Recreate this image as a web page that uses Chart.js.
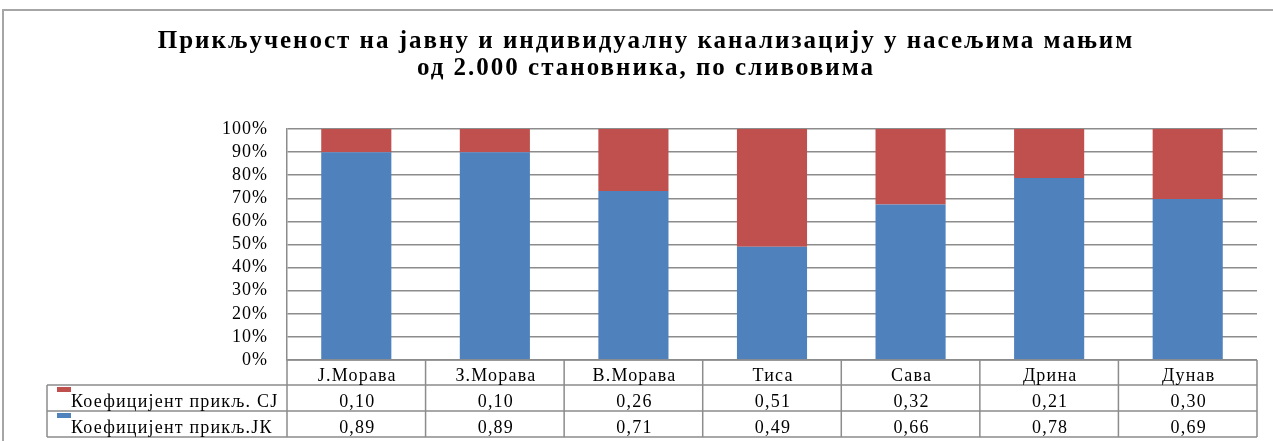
<!DOCTYPE html>
<html>
<head>
<meta charset="utf-8">
<script src="https://cdn.jsdelivr.net/npm/chart.js@4.4.1/dist/chart.umd.min.js"></script>
<style>
  html, body { margin: 0; padding: 0; background: #fff; }
  #wrap { width: 1273px; height: 441px; position: relative; }
</style>
</head>
<body>
<div id="wrap"><canvas id="chart"></canvas></div>
<script>
// data
const basins = ['Ј.Морава', 'З.Морава', 'В.Морава', 'Тиса', 'Сава', 'Дрина', 'Дунав'];
const coefCJ = [0.10, 0.10, 0.26, 0.51, 0.32, 0.21, 0.30];
const coefJK = [0.89, 0.89, 0.71, 0.49, 0.66, 0.78, 0.69];
const seriesNames = ['Коефицијент прикљ. СЈ', 'Коефицијент прикљ.ЈК'];
const titleLines = ['Прикљученост на јавну и индивидуалну канализацију у насељима мањим', 'од 2.000 становника, по сливовима'];

const BLUE = '#4F81BD', RED = '#C0504D', LINE = '#8c8c8c';
const SERIF = '"Liberation Serif", "Times New Roman", serif';

// 100% stacked: each column is scaled to its own total
const share = (arr, i) => arr[i] / (coefCJ[i] + coefJK[i]) * 100;
const fmt = v => v.toFixed(2).replace('.', ',');

// frame, title and the data table under the plot
const tablePlugin = {
  id: 'dataTable',
  beforeDraw(chart) {
    const ctx = chart.ctx;
    ctx.save();
    ctx.strokeStyle = '#a6a6a6';
    ctx.lineWidth = 2;
    ctx.strokeRect(3, 10, 1400, 600);
    ctx.restore();
    // a little extra spacing for the axis labels
    ctx.letterSpacing = '1px';
  },
  afterDraw(chart) {
    const { ctx, chartArea: a, scales: { x } } = chart;
    const n = basins.length;
    const colW = (a.right - a.left) / n;
    const rows = [a.bottom, a.bottom + 25, a.bottom + 51, a.bottom + 77];
    const legendLeft = 47;
    ctx.save();

    // title
    ctx.fillStyle = '#000';
    ctx.textAlign = 'center';
    ctx.textBaseline = 'alphabetic';
    ctx.font = 'bold 25px ' + SERIF;
    ctx.letterSpacing = '2px';
    ctx.fillText(titleLines[0], 646, 48);
    ctx.fillText(titleLines[1], 646, 75);

    ctx.strokeStyle = LINE;
    ctx.lineWidth = 1.5;
    ctx.beginPath();
    ctx.moveTo(a.left, rows[0]); ctx.lineTo(a.right, rows[0]);
    for (let r = 1; r < rows.length; r++) {
      ctx.moveTo(legendLeft, rows[r]); ctx.lineTo(a.right, rows[r]);
    }
    for (let c = 0; c <= n; c++) {
      const px = a.left + c * colW;
      ctx.moveTo(px, rows[0]); ctx.lineTo(px, rows[3]);
    }
    ctx.moveTo(legendLeft, rows[1]); ctx.lineTo(legendLeft, rows[3]);
    ctx.stroke();

    ctx.font = '18px ' + SERIF;
    ctx.letterSpacing = '1.2px';
    basins.forEach((b, i) => {
      const cx = x.getPixelForValue(i) + 1;
      ctx.fillText(b, cx, rows[0] + 21);
      ctx.fillText(fmt(coefCJ[i]), cx, rows[1] + 22);
      ctx.fillText(fmt(coefJK[i]), cx, rows[2] + 22);
    });

    // legend keys in the row headers
    ctx.textAlign = 'left';
    [RED, BLUE].forEach((col, r) => {
      ctx.fillStyle = col;
      ctx.fillRect(57, rows[r + 1] + 2, 14, 5);
      ctx.fillStyle = '#000';
      ctx.fillText(seriesNames[r], 71, rows[r + 1] + 22);
    });
    ctx.restore();
  }
};

new Chart(document.getElementById('chart'), {
  type: 'bar',
  data: {
    labels: basins,
    datasets: [
      { label: seriesNames[1], data: basins.map((_, i) => share(coefJK, i)), backgroundColor: BLUE, barPercentage: 0.506, categoryPercentage: 1 },
      { label: seriesNames[0], data: basins.map((_, i) => share(coefCJ, i)), backgroundColor: RED, barPercentage: 0.506, categoryPercentage: 1 }
    ]
  },
  options: {
    responsive: true, maintainAspectRatio: false, animation: false,
    layout: { padding: { left: 0, right: 16, bottom: 81, top: 129 } },
    plugins: {
      legend: { display: false },
      tooltip: { enabled: false },
      title: { display: false }
    },
    scales: {
      x: { stacked: true, display: false },
      y: {
        stacked: true, min: 0, max: 100,
        afterFit(s) { s.width = 287; },
        grid: { color: LINE, lineWidth: 1.5, drawTicks: false },
        border: { color: LINE, width: 1.5 },
        ticks: { stepSize: 10, autoSkip: false, padding: 19, color: '#000', font: { family: SERIF, size: 18 }, callback: v => v + '%' }
      }
    }
  },
  plugins: [tablePlugin]
});
</script>
</body>
</html>
